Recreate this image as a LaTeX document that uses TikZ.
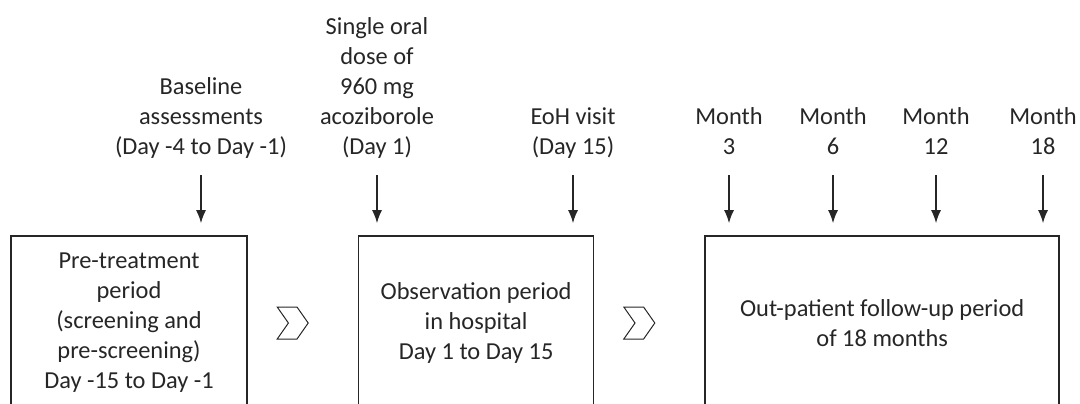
\documentclass[tikz,border=0pt]{standalone}
\usepackage{fontspec}
\setmainfont{Carlito}
\usetikzlibrary{positioning,shapes.symbols,arrows.meta}
\definecolor{ink}{HTML}{262626}

\begin{document}
\begin{tikzpicture}[x=0.5pt,y=-0.5pt,node distance=55pt,>={Latex[length=6.5pt,width=5pt]},
    font=\fontsize{12.2}{15}\selectfont,text=ink]
  \tikzset{
    period/.style={draw=ink,line width=0.8pt,align=center,minimum height=87pt,inner sep=0pt},
    chevron/.style={draw=ink,line width=0.5pt,signal,signal from=west,signal to=east,
      signal pointer angle=110,minimum width=15.5pt,minimum height=16pt,inner sep=0pt},
    event/.style={align=center,anchor=south,inner sep=0pt,text depth=0.25em},
    timearrow/.style={->,draw=ink,line width=0.75pt,shorten <=7.5pt,shorten >=6pt}
  }
  \useasboundingbox (0,0) rectangle (1080,403);
  \clip (0,0) rectangle (1080,403);
  % study periods
  \node (pre) [period,minimum width=118pt] at (129,323)
    {Pre-treatment\\period\\(screening and\\pre-screening)\\Day -15 to Day -1};
  \node (obs) [period,minimum width=117.5pt,right=of pre]
    {Observation period\\in hospital\\Day 1 to Day 15};
  \node (out) [period,minimum width=177pt,right=of obs]
    {Out-patient follow-up period\\of 18 months};
  \node (c1) [chevron,right=20pt of pre] {};
  \node (c2) [chevron,right=20pt of obs] {};
  % visits
  \node (base) [event] at (201,160) {Baseline\\assessments\\(Day -4 to Day -1)};
  \node (dose) [event] at (377,160) {Single oral\\dose of\\960 mg\\acoziborole\\(Day 1)};
  \node (eoh) [event] at (573,160) {EoH visit\\(Day 15)};
  \node (m3) [event] at (729,160) {Month\\3};
  \node (m6) [event] at (833,160) {Month\\6};
  \node (m12) [event] at (936,160) {Month\\12};
  \node (m18) [event] at (1043,160) {Month\\18};
  \draw[timearrow] (base.south) -- (base.south |- pre.north);
  \draw[timearrow] (dose.south) -- (dose.south |- obs.north);
  \draw[timearrow] (eoh.south) -- (eoh.south |- obs.north);
  \draw[timearrow] (m3.south) -- (m3.south |- out.north);
  \draw[timearrow] (m6.south) -- (m6.south |- out.north);
  \draw[timearrow] (m12.south) -- (m12.south |- out.north);
  \draw[timearrow] (m18.south) -- (m18.south |- out.north);
\end{tikzpicture}
\end{document}
